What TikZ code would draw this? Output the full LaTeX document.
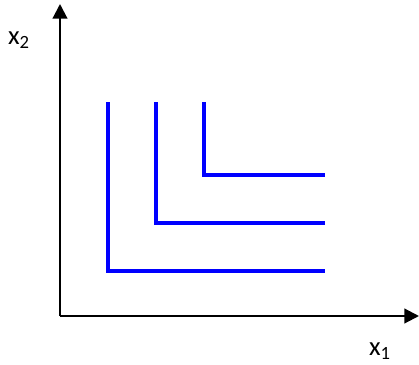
\documentclass[tikz,border=0pt]{standalone}
\usepackage{fontspec}
\setmainfont{Carlito}
\usetikzlibrary{arrows.meta}
\definecolor{monBleu}{RGB}{0,0,255}
\tikzset{
  axe/.style={line width=1.6pt, -{Triangle[length=11pt,width=11pt]}},
  isoquant/.style={monBleu, line width=3pt}
}
\begin{document}
\begin{tikzpicture}[x=0.75pt,y=-0.75pt]
        \useasboundingbox (0,0) rectangle (419,365);

        % Points de construction
        \coordinate (O) at (60,316);
        \coordinate (X) at (419,316);
        \coordinate (Y) at (60,4);

        % Les axes
        \draw[axe] (O) -- (X);
        \draw[axe] (O) -- (Y);

        % Labels des axes
        \node[font=\fontsize{20}{24}\selectfont] (lx1) at (380,351) {x\textsubscript{1}};
        \node[font=\fontsize{20}{24}\selectfont] (lx2) at (19,40) {x\textsubscript{2}};

        % Les trois isoquantes en L
        \draw[isoquant] (108.5,102) |- (325,270.5);
        \draw[isoquant] (156,102) |- (325,222.5);
        \draw[isoquant] (204,102) |- (325,175);
    \end{tikzpicture}
\end{document}
